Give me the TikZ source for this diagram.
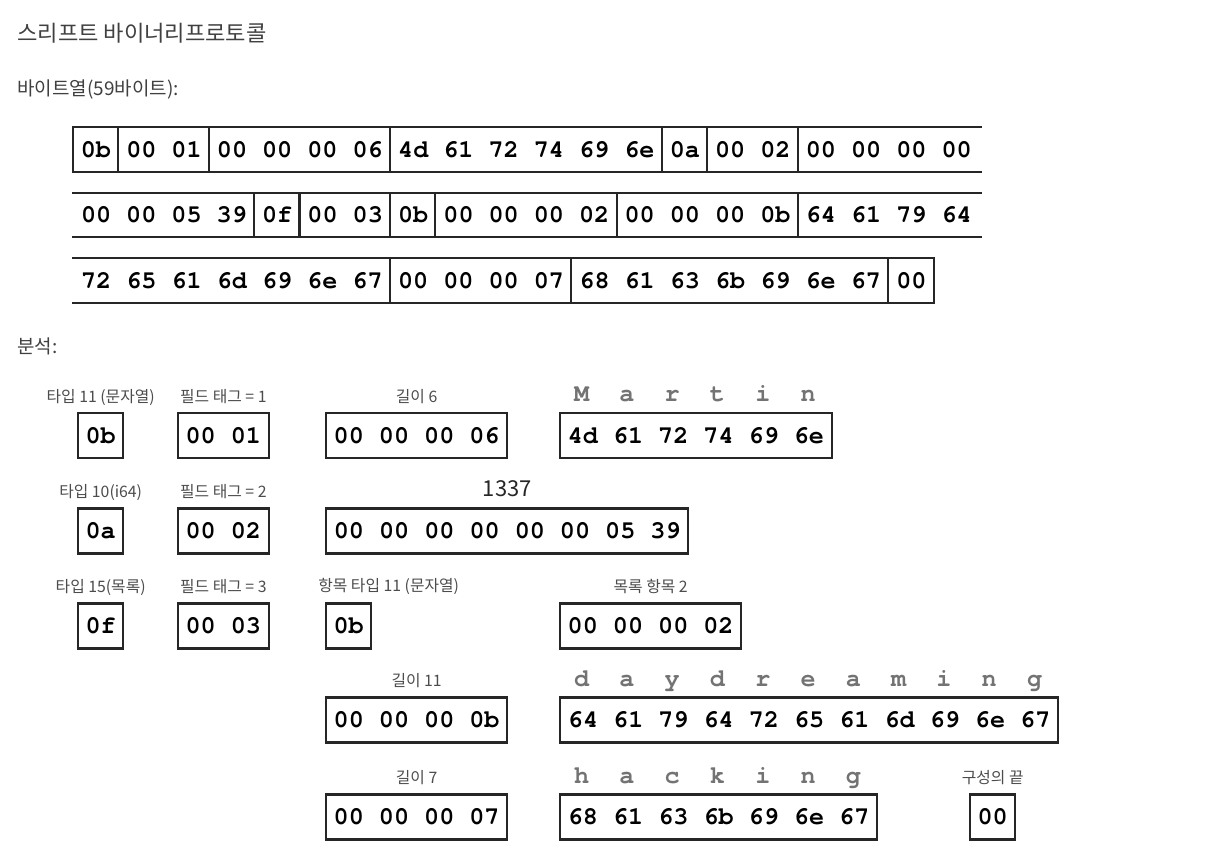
\documentclass[tikz,border=0pt]{standalone}
\usepackage{fontspec}
\setmainfont{Noto Sans CJK KR}
\newfontfamily\hexfont{TeX Gyre Cursor}
\usepackage{tikz}
\usetikzlibrary{positioning}
\def\bw{0.906cm}
\tikzset{
  hexfnt/.style={font=\hexfont\bfseries\fontsize{14.3}{16}\selectfont},
  cell/.style={hexfnt, inner sep=0pt, minimum height=0.9cm, anchor=west,
    text height=8.6pt, text depth=0pt},
  hexbox/.style={cell, draw=black!85, line width=1.2pt},
  strip/.style={black!85, line width=1.2pt},
  lbl/.style={font=\fontsize{9}{11}\selectfont, text=black!70, inner sep=0pt,
    text height=7pt, text depth=1pt},
  chr/.style={font=\hexfont\bfseries\fontsize{14.3}{16}\selectfont, text=black!55,
    inner sep=0pt, anchor=base},
  head/.style={font=\fontsize{10.8}{13}\selectfont, text=black!75, inner sep=0pt,
    anchor=west}
}
\begin{document}
\begin{tikzpicture}[x=0.02cm, y=-0.02cm]
  \useasboundingbox (0,0) rectangle (1224,866);
  % headings
  \node[head, font=\fontsize{12.6}{15}\selectfont] (title) at (17,33) {스리프트 바이너리프로토콜};
  \node[head] (bytes) at (17,90) {바이트열(59바이트):};
  \node[head] (anal) at (17,346) {분석:};
  % byte string, row 1
  \foreach \s/\n/\txt [count=\k] in {0/1/0b, 1/2/00 01, 3/4/00 00 00 06,
      7/6/4d 61 72 74 69 6e, 13/1/0a, 14/2/00 02, 16/4/00 00 00 00}
    \node[cell, minimum width=\n*\bw] (p\k) at ({73+\s*45.3},149.5) {\txt};
  \draw[strip] (72,127) -- (982,127) (72,172) -- (982,172);
  \foreach \k in {1,...,7}
    \draw[strip] (p\k.west |- 0,127) -- (p\k.west |- 0,172);
  % row 2
  \foreach \s/\n/\txt [count=\k] in {0/4/00 00 05 39, 4/1/0f, 5/2/00 03, 7/1/0b,
      8/4/00 00 00 02, 12/4/00 00 00 0b, 16/4/64 61 79 64}
    \node[cell, minimum width=\n*\bw] (q\k) at ({73+\s*45.3},215) {\txt};
  \draw[strip] (72,193) -- (982,193) (72,237) -- (982,237);
  \foreach \k in {2,...,7}
    \draw[strip] (q\k.west |- 0,193) -- (q\k.west |- 0,237);
  % row 3
  \foreach \s/\n/\txt [count=\k] in {0/7/72 65 61 6d 69 6e 67, 7/4/00 00 00 07,
      11/7/68 61 63 6b 69 6e 67, 18/1/00}
    \node[cell, minimum width=\n*\bw] (r\k) at ({73+\s*45.3},280.5) {\txt};
  \draw[strip] (72,258) -| (r4.east |- 0,303) -- (72,303);
  \foreach \k in {2,...,4}
    \draw[strip] (r\k.west |- 0,258) -- (r\k.west |- 0,303);
  % analysis: string field
  \node[hexbox, minimum width=\bw] (t1) at (77,435.5) {0b};
  \node[hexbox, minimum width=2*\bw] (g1) at (177,435.5) {00 01};
  \node[hexbox, minimum width=4*\bw] (v1) at (325,435.5) {00 00 00 06};
  \node[hexbox, minimum width=6*\bw] (s1) at (559,435.5) {4d 61 72 74 69 6e};
  \node[lbl, above=4.3pt of t1] (lt1) {타입 11 (문자열)};
  \node[lbl, above=4.3pt of g1] (lg1) {필드 태그 = 1};
  \node[lbl, above=4.3pt of v1] (lv1) {길이 6};
  \foreach \ch [count=\i from 0] in {M,a,r,t,i,n}
    \node[chr] (c1\i) at ([xshift={(\i+0.5)*\bw}, yshift=5.7pt]s1.north west) {\ch};
  % i64 field
  \node[hexbox, minimum width=\bw] (t2) at (77,531) {0a};
  \node[hexbox, minimum width=2*\bw] (g2) at (177,531) {00 02};
  \node[hexbox, minimum width=8*\bw] (v2) at (325,531) {00 00 00 00 00 00 05 39};
  \node[lbl, above=4.3pt of t2] (lt2) {타입 10(i64)};
  \node[lbl, above=4.3pt of g2] (lg2) {필드 태그 = 2};
  \node[font=\fontsize{12.5}{14}\selectfont, text=black!85, inner sep=0pt, anchor=base]
    (lv2) at ([yshift=6.2pt]v2.north) {1337};
  % list field
  \node[hexbox, minimum width=\bw] (t3) at (77,626) {0f};
  \node[hexbox, minimum width=2*\bw] (g3) at (177,626) {00 03};
  \node[hexbox, minimum width=\bw] (e3) at (325,626) {0b};
  \node[hexbox, minimum width=4*\bw] (n3) at (559,626) {00 00 00 02};
  \node[lbl, above=4.3pt of t3] (lt3) {타입 15(목록)};
  \node[lbl, above=4.3pt of g3] (lg3) {필드 태그 = 3};
  \node[lbl, anchor=south west] (le3) at ([xshift=-4pt, yshift=5.3pt]e3.north west)
    {항목 타입 11 (문자열)};
  \node[lbl, above=4.3pt of n3] (ln3) {목록 항목 2};
  % list items
  \node[hexbox, minimum width=4*\bw] (len4) at (325,720) {00 00 00 0b};
  \node[hexbox, minimum width=11*\bw] (s4) at (559,720) {64 61 79 64 72 65 61 6d 69 6e 67};
  \node[lbl, above=4.3pt of len4] (llen4) {길이 11};
  \foreach \ch [count=\i from 0] in {d,a,y,d,r,e,a,m,i,n,g}
    \node[chr] (c4\i) at ([xshift={(\i+0.5)*\bw}, yshift=5.7pt]s4.north west) {\ch};
  \node[hexbox, minimum width=4*\bw] (len5) at (325,817) {00 00 00 07};
  \node[hexbox, minimum width=7*\bw] (s5) at (559,817) {68 61 63 6b 69 6e 67};
  \node[hexbox, minimum width=\bw] (stop) at (969,817) {00};
  \node[lbl, above=4.3pt of len5] (llen5) {길이 7};
  \node[lbl, above=4.3pt of stop] (lstop) {구성의 끝};
  \foreach \ch [count=\i from 0] in {h,a,c,k,i,n,g}
    \node[chr] (c5\i) at ([xshift={(\i+0.5)*\bw}, yshift=5.7pt]s5.north west) {\ch};
\end{tikzpicture}
\end{document}
